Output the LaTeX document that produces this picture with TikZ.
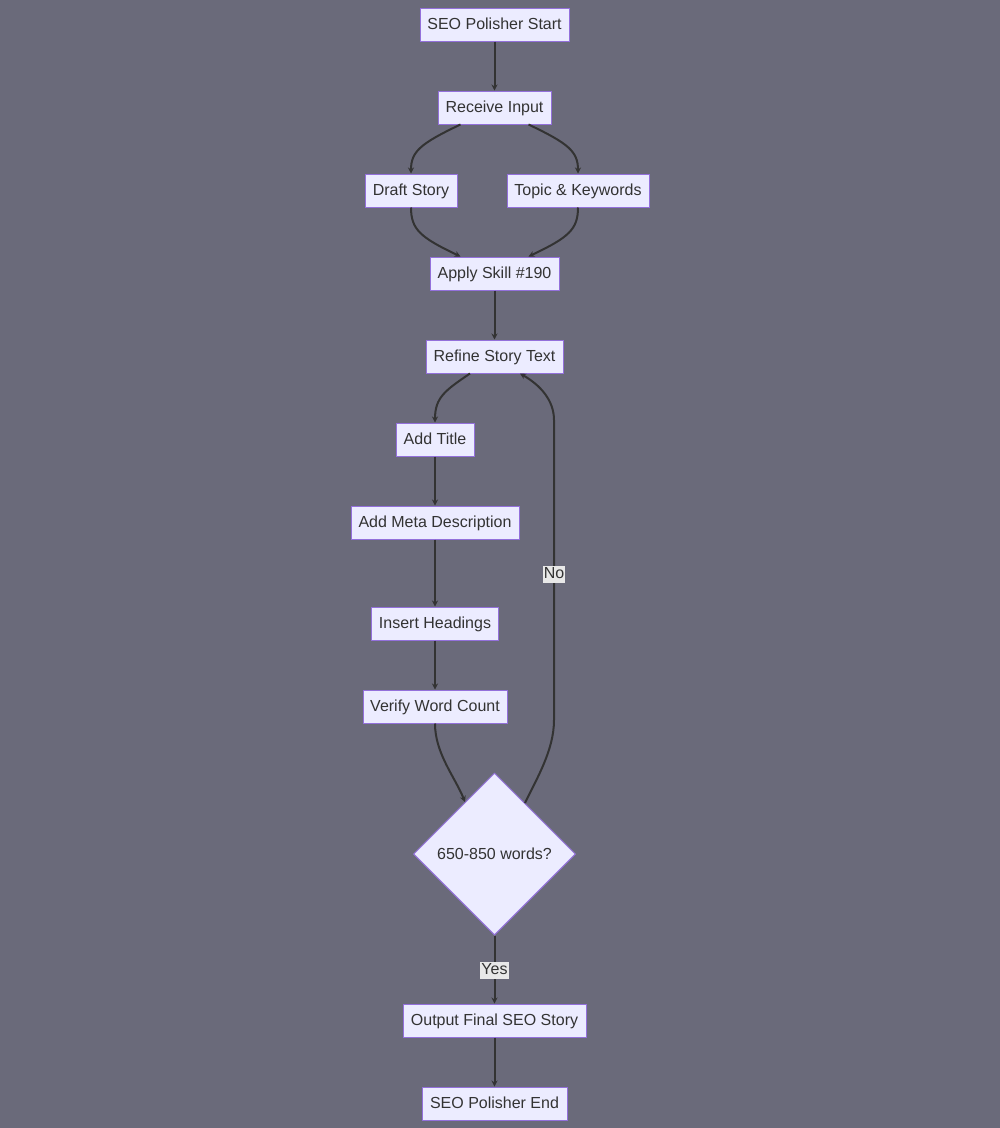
\documentclass[tikz,border=0pt]{standalone}
\usepackage{fontspec}
\setmainfont{Liberation Sans}
\usetikzlibrary{shapes.geometric,arrows.meta}
\definecolor{bg}{HTML}{6A6A7A}
\definecolor{nfill}{HTML}{ECECFF}
\definecolor{nborder}{HTML}{9370DB}
\definecolor{lcol}{HTML}{333333}
\definecolor{lblbg}{HTML}{E8E8E8}
\tikzset{
  box/.style={draw=nborder, fill=nfill, line width=1pt, minimum height=33pt, inner sep=0pt, text height=9.5pt, text depth=0pt, text=lcol, font=\fontsize{16pt}{18pt}\selectfont},
  dec/.style={draw=nborder, fill=nfill, line width=1pt, diamond, minimum width=162pt, minimum height=162pt, inner sep=0pt, text height=11.5pt, text depth=0pt, text=lcol, font=\fontsize{16pt}{18pt}\selectfont},
  conn/.style={draw=lcol, line width=2pt, -{Stealth[length=6pt,width=6pt]}},
  lbl/.style={fill=lblbg, inner sep=1pt, text height=11.5pt, text depth=3.5pt, text=lcol, font=\fontsize{16pt}{18pt}\selectfont}
}
\begin{document}
\begin{tikzpicture}[x=1pt,y=-1pt]
\fill[bg] (0,0) rectangle (1000,1128);
\useasboundingbox (0,0) rectangle (1000,1128);
\node[box, minimum width=149pt] (start) at (494.5,24.5) {SEO Polisher Start};
\node[box, minimum width=113pt] (recv) at (494.5,107.5) {Receive Input};
\node[box, minimum width=92pt] (draft) at (411,190.5) {Draft Story};
\node[box, minimum width=142pt] (topic) at (578,190.5) {Topic \& Keywords};
\node[box, minimum width=129pt] (apply) at (494.5,273.5) {Apply Skill \#190};
\node[box, minimum width=137pt] (refine) at (494.5,356.5) {Refine Story Text};
\node[box, minimum width=78pt] (title) at (435,439.5) {Add Title};
\node[box, minimum width=168pt] (meta) at (435,522.5) {Add Meta Description};
\node[box, minimum width=127pt] (head) at (435,623.5) {Insert Headings};
\node[box, minimum width=144pt] (verify) at (435,706.5) {Verify Word Count};
\node[dec] (check) at (494.5,854) {650-850 words?};
\node[box, minimum width=183pt] (out) at (494.5,1020.5) {Output Final SEO Story};
\node[box, minimum width=145pt] (fin) at (494.5,1103.5) {SEO Polisher End};

\draw[conn] (start) -- (recv);
\draw[conn] ([xshift=-34pt]recv.south) .. controls +(-40,19) and +(0,-22) .. (draft.north);
\draw[conn] ([xshift=34pt]recv.south) .. controls +(40,19) and +(0,-22) .. (topic.north);
\draw[conn] (draft.south) .. controls +(0,22) and +(-40,-19) .. ([xshift=-34pt]apply.north);
\draw[conn] (topic.south) .. controls +(0,22) and +(40,-19) .. ([xshift=34pt]apply.north);
\draw[conn] (apply) -- (refine);
\draw[conn] ([xshift=-24.5pt]refine.south) .. controls +(-25,17) and +(0,-25) .. (title.north);
\draw[conn] (title) -- (meta);
\draw[conn] (meta) -- (head);
\draw[conn] (head) -- (verify);
\draw[conn] (verify.south) .. controls +(0,30) and +(-10,-25) .. ([xshift=-29.5pt,yshift=-29.5pt]check.north);
\draw[conn] ([xshift=30.5pt,yshift=-30.5pt]check.north) .. controls +(12,-25) and +(0,30) .. (554,720) -- node[lbl, pos=0.485]{No} (554,420) .. controls (554,400) and (540,385) .. ([xshift=25.5pt]refine.south);
\draw[conn] (check.south) -- node[lbl, pos=0.52]{Yes} (out.north);
\draw[conn] (out) -- (fin);
\end{tikzpicture}
\end{document}
